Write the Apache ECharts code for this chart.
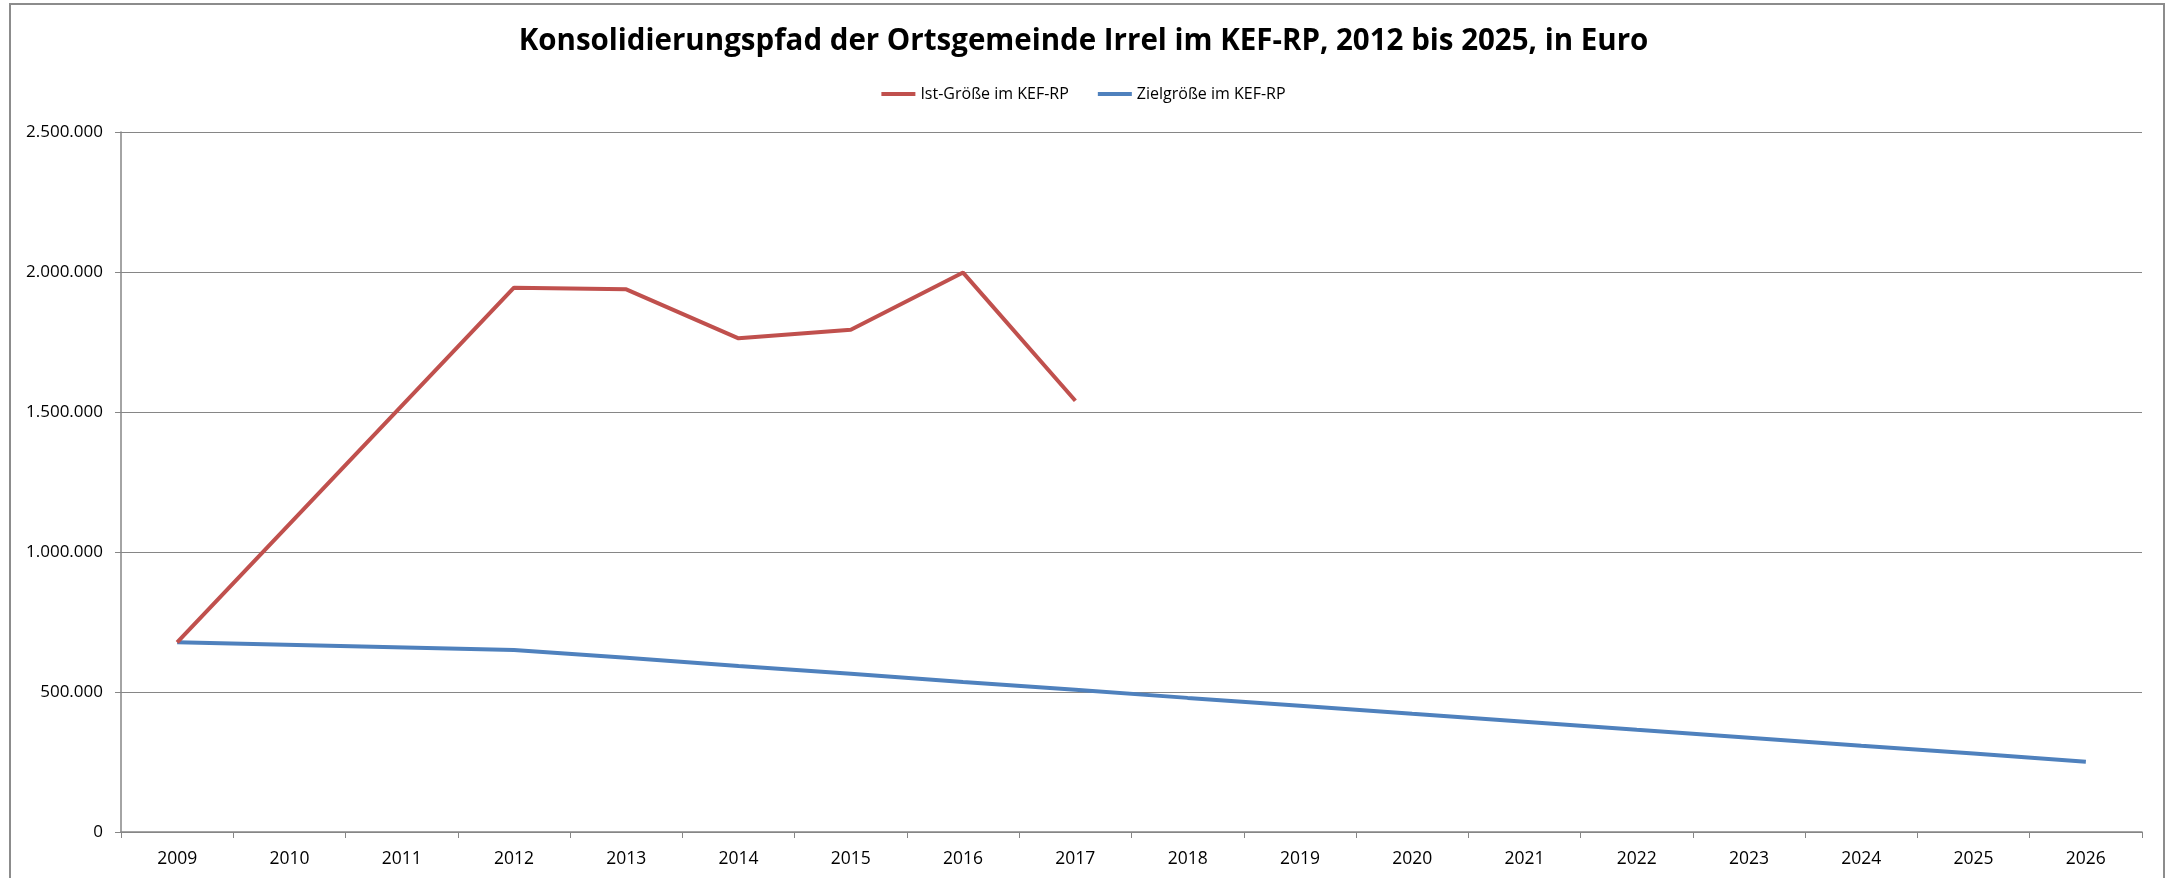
<!DOCTYPE html>
<html>
<head>
<meta charset="utf-8">
<title>Konsolidierungspfad Irrel</title>
<script src="https://cdn.jsdelivr.net/npm/echarts@6/dist/echarts.min.js"></script>
<style>
html, body { margin: 0; padding: 0; background: #fff; }
#chart { width: 2167px; height: 878px; }
</style>
</head>
<body>
<div id="chart"></div>
<script>
// Jahre (x-Achse)
var years = ['2009', '2010', '2011', '2012', '2013', '2014', '2015', '2016', '2017',
	'2018', '2019', '2020', '2021', '2022', '2023', '2024', '2025', '2026'];
// Ist-Größe im KEF-RP (Euro), Lücken werden verbunden
var istData = [677500, null, null, 1944000, 1938000, 1763000, 1794000, 1998000, 1540000,
	null, null, null, null, null, null, null, null, null];
// Zielgröße im KEF-RP (Euro)
var zielData = [677500, null, null, 650000, 622000, 593000, 565000, 536000, 508000,
	479000, 451000, 422000, 394000, 365000, 337000, 308000, 280000, 251000];
var seriesNames = ['Ist-Größe im KEF-RP', 'Zielgröße im KEF-RP'];

function fmtDE(v) {
	return String(v).replace(/\B(?=(\d{3})+(?!\d))/g, '.');
}

var chart = echarts.init(document.getElementById('chart'));
var fontFam = 'Open Sans';

var option = {
	backgroundColor: '#fff',
	animation: false,
	title: {
		text: 'Konsolidierungspfad der Ortsgemeinde Irrel im KEF-RP, 2012 bis 2025, in Euro',
		left: 'center',
		top: 22,
		textStyle: {
			fontFamily: fontFam,
			fontWeight: 'bold',
			fontSize: 29.5,
			color: '#000'
		}
	},
	legend: {
		data: seriesNames,
		top: 81,
		left: 'center',
		icon: 'rect',
		itemWidth: 34,
		itemHeight: 4,
		itemGap: 29,
		textStyle: {
			fontFamily: fontFam,
			fontSize: 16,
			color: '#000'
		}
	},
	graphic: [{
		type: 'rect',
		shape: { x: 10, y: 4, width: 2154, height: 900 },
		style: { fill: 'none', stroke: '#8c8c8c', lineWidth: 2 },
		silent: true
	}],
	grid: {
		left: 121,
		right: 25,
		top: 132,
		bottom: 46,
		containLabel: false
	},
	xAxis: {
		type: 'category',
		data: years,
		boundaryGap: true,
		axisLine: { lineStyle: { color: '#868686', width: 1.5 } },
		axisTick: { show: true, length: 6, interval: 0, lineStyle: { color: '#868686' } },
		axisLabel: {
			interval: 0,
			margin: 18,
			fontFamily: fontFam,
			fontSize: 17.5,
			color: '#000'
		},
		splitLine: { show: false }
	},
	yAxis: {
		type: 'value',
		min: 0,
		max: 2500000,
		interval: 500000,
		axisLine: { show: true, lineStyle: { color: '#868686', width: 1.5 } },
		axisTick: { show: true, length: 6, lineStyle: { color: '#868686' } },
		axisLabel: {
			margin: 18,
			fontFamily: fontFam,
			fontSize: 17,
			color: '#000',
			formatter: fmtDE
		},
		splitLine: { show: true, lineStyle: { color: '#868686', width: 1.2 } }
	},
	series: [{
		name: seriesNames[0],
		type: 'line',
		data: istData,
		connectNulls: true,
		symbol: 'none',
		itemStyle: { color: '#C0504D' },
		lineStyle: { color: '#C0504D', width: 4 },
		z: 3
	}, {
		name: seriesNames[1],
		type: 'line',
		data: zielData,
		connectNulls: true,
		symbol: 'none',
		itemStyle: { color: '#4F81BD' },
		lineStyle: { color: '#4F81BD', width: 4 },
		z: 2
	}]
};

chart.setOption(option);
</script>
</body>
</html>
